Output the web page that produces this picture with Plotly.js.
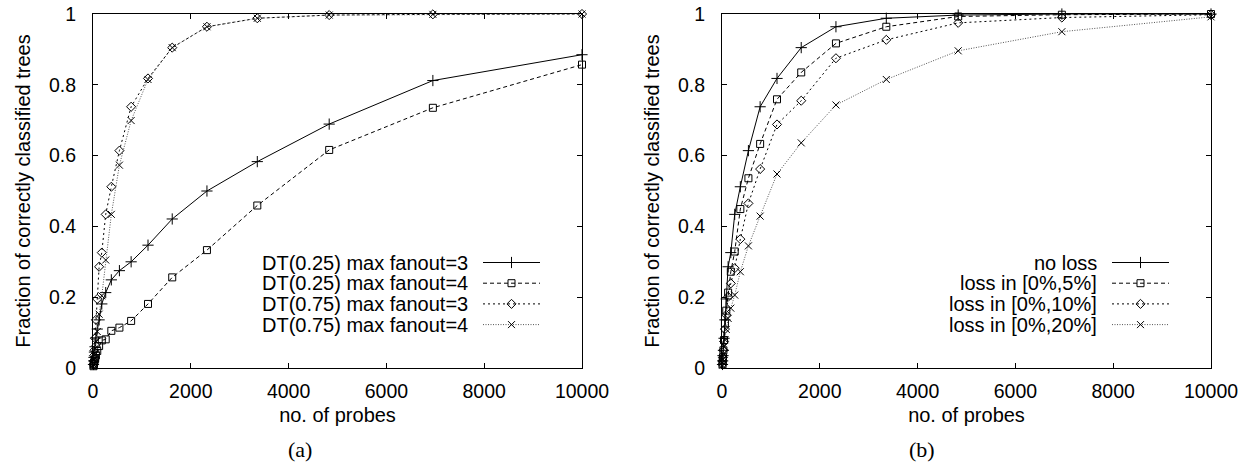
<!DOCTYPE html>
<html>
<head>
<meta charset="utf-8">
<script src="https://cdn.plot.ly/plotly-3.0.1.min.js"></script>
<style>html,body{margin:0;padding:0;background:#fff;}#chart{width:1247px;height:472px;}</style>
</head>
<body>
<div id="chart"></div>
<script>
// ---- data ----
var probes = [10, 14, 20, 29, 42, 60, 87, 125, 180, 260, 375, 540, 780, 1125, 1620, 2330, 3360, 4830, 6950, 10000];

// panel (a)
var namesA = ["DT(0.25) max fanout=3", "DT(0.25) max fanout=4", "DT(0.75) max fanout=3", "DT(0.75) max fanout=4"];
var dt25_f3 = [0.01, 0.02, 0.03, 0.045, 0.06, 0.085, 0.11, 0.136, 0.181, 0.213, 0.249, 0.275, 0.300, 0.347, 0.421, 0.500, 0.583, 0.689, 0.812, 0.885];
var dt25_f4 = [0.005, 0.008, 0.012, 0.018, 0.025, 0.035, 0.048, 0.062, 0.078, 0.081, 0.105, 0.114, 0.133, 0.181, 0.256, 0.333, 0.459, 0.616, 0.735, 0.857];
var dt75_f3 = [0.01, 0.02, 0.035, 0.05, 0.084, 0.136, 0.195, 0.286, 0.326, 0.434, 0.512, 0.614, 0.738, 0.818, 0.905, 0.964, 0.988, 0.997, 0.999, 1.0];
var dt75_f4 = [0.01, 0.015, 0.025, 0.04, 0.055, 0.075, 0.103, 0.152, 0.204, 0.305, 0.434, 0.573, 0.699, 0.815, 0.905, 0.964, 0.988, 0.997, 0.999, 1.0];

// panel (b)
var namesB = ["no loss", "loss in [0%,5%]", "loss in [0%,10%]", "loss in [0%,20%]"];
var noLoss = [0.01, 0.02, 0.035, 0.05, 0.084, 0.136, 0.195, 0.286, 0.326, 0.434, 0.512, 0.614, 0.738, 0.818, 0.905, 0.964, 0.988, 0.997, 1.0, 1.0];
var loss5  = [0.01, 0.02, 0.03, 0.05, 0.079, 0.126, 0.162, 0.213, 0.272, 0.329, 0.449, 0.536, 0.633, 0.759, 0.835, 0.917, 0.964, 0.993, 0.998, 1.0];
var loss10 = [0.01, 0.02, 0.03, 0.05, 0.075, 0.11, 0.15, 0.201, 0.239, 0.282, 0.364, 0.465, 0.562, 0.688, 0.755, 0.875, 0.927, 0.975, 0.99, 0.998];
var loss20 = [0.008, 0.015, 0.025, 0.04, 0.06, 0.08, 0.109, 0.14, 0.169, 0.206, 0.272, 0.345, 0.429, 0.548, 0.636, 0.743, 0.815, 0.896, 0.950, 0.992];

var xTicks = [0, 2000, 4000, 6000, 8000, 10000];
var yTicks = [0, 0.2, 0.4, 0.6, 0.8, 1];
var xTitle = "no. of probes";
var yTitle = "Fraction of correctly classified trees";
var captions = ["(a)", "(b)"];

// ---- styles ----
var W = 1247, H = 472;
var styles = [
  {dash: "solid", color: "#000", symbol: "cross-thin-open", size: 8},
  {dash: "4px,3px", color: "#000", symbol: "square-open", size: 7},
  {dash: "2px,3px", color: "#000", symbol: "diamond-open", size: 7},
  {dash: "1px,1.5px", color: "#555", symbol: "x-thin-open", size: 7}
];
var FONT = "Liberation Sans, Arial, Helvetica, sans-serif";

var traces = [];
function addSeries(ys, i, xa, ya, name) {
  var s = styles[i];
  traces.push({
    type: "scatter", mode: "lines+markers", x: probes, y: ys, name: name,
    xaxis: xa, yaxis: ya, showlegend: false, cliponaxis: false,
    line: {color: s.color, width: 1, dash: s.dash},
    marker: {symbol: s.symbol, size: s.size, color: "#000", line: {color: "#000", width: 1}}
  });
}
[dt25_f3, dt25_f4, dt75_f3, dt75_f4].forEach(function (ys, i) { addSeries(ys, i, "x", "y", namesA[i]); });
[noLoss, loss5, loss10, loss20].forEach(function (ys, i) { addSeries(ys, i, "x2", "y2", namesB[i]); });

// ---- gnuplot-style key (text right-aligned, sample to the right) ----
var annotations = [];
var keyRow0 = 262.5, keyStep = 20.7;
var keys = [
  {names: namesA, textRight: 470, s0: 483, s1: 540},
  {names: namesB, textRight: 1099, s0: 1112, s1: 1169}
];
keys.forEach(function (k) {
  k.names.forEach(function (nm, i) {
    var yy = keyRow0 + i * keyStep, s = styles[i];
    annotations.push({xref: "x3", yref: "y3", x: k.textRight, y: yy, text: nm, showarrow: false,
      xanchor: "right", yanchor: "middle", font: {family: FONT, size: 20, color: "#000"}});
    traces.push({type: "scatter", mode: "lines", x: [k.s0, k.s1], y: [yy, yy], xaxis: "x3", yaxis: "y3",
      showlegend: false, hoverinfo: "skip", line: {color: s.color, width: 1, dash: s.dash}});
    traces.push({type: "scatter", mode: "markers", x: [(k.s0 + k.s1) / 2], y: [yy], xaxis: "x3", yaxis: "y3",
      showlegend: false, hoverinfo: "skip",
      marker: {symbol: s.symbol, size: s.size, color: "#000", line: {color: "#000", width: 1}}});
  });
});

// captions
[300, 922].forEach(function (cx, i) {
  annotations.push({xref: "x3", yref: "y3", x: cx, y: 449, text: captions[i], showarrow: false,
    xanchor: "center", yanchor: "middle", font: {family: "Liberation Serif, Times New Roman, serif", size: 22, color: "#000"}});
});

function xAxis(d0, d1, anchor) {
  return {domain: [d0 / W, d1 / W], anchor: anchor, range: [0, 10000], tickvals: xTicks,
    ticktext: xTicks.map(String), ticks: "inside", ticklen: 5, tickcolor: "#000", tickwidth: 1,
    showline: true, linecolor: "#000", linewidth: 1, mirror: "ticks", showgrid: false, zeroline: false,
    tickfont: {family: FONT, size: 19.5, color: "#000"}, ticklabelstandoff: 6,
    title: {text: xTitle, font: {family: FONT, size: 20, color: "#000"}, standoff: 6}, automargin: false, fixedrange: true};
}
function yAxis(anchor) {
  return {domain: [(H - 368) / H, (H - 14) / H], anchor: anchor, range: [0, 1], tickvals: yTicks,
    ticktext: yTicks.map(function (v) { return String(v); }), ticks: "inside", ticklen: 5, tickcolor: "#000", tickwidth: 1,
    showline: true, linecolor: "#000", linewidth: 1, mirror: "ticks", showgrid: false, zeroline: false,
    tickfont: {family: FONT, size: 19.5, color: "#000"}, ticklabelstandoff: 12,
    title: {text: yTitle, font: {family: FONT, size: 20, color: "#000"}, standoff: 12}, automargin: false, fixedrange: true};
}

var layout = {
  width: W, height: H, margin: {l: 0, r: 0, t: 0, b: 0},
  paper_bgcolor: "#fff", plot_bgcolor: "rgba(0,0,0,0)", showlegend: false,
  xaxis: xAxis(93, 582, "y"), yaxis: yAxis("x"),
  xaxis2: xAxis(722, 1211, "y2"), yaxis2: yAxis("x2"),
  xaxis3: {domain: [0, 1], anchor: "y3", range: [0, W], visible: false, fixedrange: true},
  yaxis3: {domain: [0, 1], anchor: "x3", range: [H, 0], visible: false, fixedrange: true},
  annotations: annotations
};

Plotly.newPlot("chart", traces, layout, {staticPlot: true, displayModeBar: false});
</script>
</body>
</html>
